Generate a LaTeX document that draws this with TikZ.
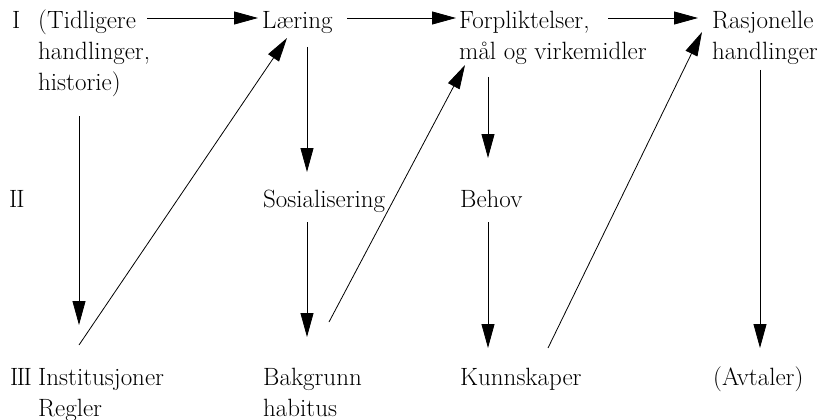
\documentclass[tikz,border=0pt]{standalone}
\usetikzlibrary{arrows.meta}
\begin{document}
\begin{tikzpicture}[x=1pt,y=-1pt,
  lbl/.style={anchor=base west,inner sep=0pt,font=\fontsize{25}{31}\selectfont},
  arr/.style={draw=black,line width=0.8pt,-{Triangle[length=24pt,width=13pt]}}]
\useasboundingbox (0,0) rectangle (822,420);
% row labels
\node[lbl] (rI)   at (12,29)  {I};
\node[lbl] (rII)  at (9,207) {I\kern-1pt I};
\node[lbl] (rIII) at (10,385) {I\kern-1.5pt I\kern-1.5pt I};
% texts
\node[lbl] (tid) at (38,29)  {\begin{tabular}[t]{@{}l@{}}(Tidligere\\handlinger,\\historie)\end{tabular}};
\node[lbl] (lar) at (262,29) {Læring};
\node[lbl] (for) at (459,29) {\begin{tabular}[t]{@{}l@{}}Forpliktelser,\\mål og virkemidler\end{tabular}};
\node[lbl] (ras) at (712,29) {\begin{tabular}[t]{@{}l@{}}Rasjonelle\\handlinger\end{tabular}};
\node[lbl] (sos) at (263,207) {Sosialisering};
\node[lbl] (beh) at (460,207) {Behov};
\node[lbl] (ins) at (38,385)  {\begin{tabular}[t]{@{}l@{}}Institusjoner\\Regler\end{tabular}};
\node[lbl] (bak) at (263,385) {\begin{tabular}[t]{@{}l@{}}Bakgrunn\\habitus\end{tabular}};
\node[lbl] (kun) at (460,385) {Kunnskaper};
\node[lbl] (avt) at (713,385) {(Avtaler)};
% horizontal arrows
\draw[arr] ([shift={(109,-11)}]tid.base west) -- ([shift={(-4,-11)}]lar.base west);
\draw[arr] ([shift={(85,-11)}]lar.base west) -- ([shift={(-3,-11)}]for.base west);
\draw[arr] ([shift={(149,-11)}]for.base west) -- ([shift={(-14,-11)}]ras.base west);
% vertical arrows
\draw[arr] ([shift={(41,87)}]tid.base west) -- ([shift={(41,-60)}]ins.base west);
\draw[arr] ([shift={(45,18)}]lar.base west) -- ([shift={(44,-35)}]sos.base west);
\draw[arr] ([shift={(44,15)}]sos.base west) -- ([shift={(44,-48)}]bak.base west);
\draw[arr] ([shift={(29,48)}]for.base west) -- ([shift={(28,-49)}]beh.base west);
\draw[arr] ([shift={(28,15)}]beh.base west) -- ([shift={(28,-37)}]kun.base west);
\draw[arr] ([shift={(48,41)}]ras.base west) -- ([shift={(47,-37)}]avt.base west);
% diagonal arrows
\draw[arr] ([shift={(41,-40)}]ins.base west) -- ([shift={(25,9)}]lar.base west);
\draw[arr] ([shift={(66,-63)}]bak.base west) -- ([shift={(6,36)}]for.base west);
\draw[arr] ([shift={(88,-37)}]kun.base west) -- ([shift={(-10,3)}]ras.base west);
\end{tikzpicture}
\end{document}
